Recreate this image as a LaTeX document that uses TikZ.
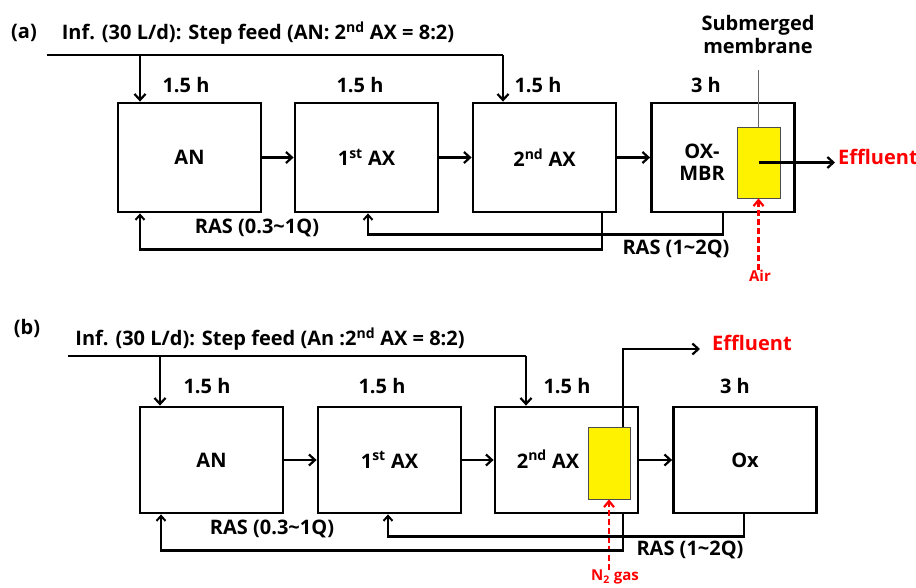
\documentclass[tikz,border=0pt]{standalone}
\usepackage{fontspec}
\setmainfont{Open Sans}
\usetikzlibrary{arrows.meta}
\begin{document}
\begin{tikzpicture}[x=1pt,y=-1pt,
  bf/.style={font=\bfseries\fontsize{20}{22}\selectfont},
  box/.style={draw,line width=2.8pt,minimum width=143pt,inner sep=0pt,bf},
  boxa/.style={box,minimum height=109pt},
  boxb/.style={box,minimum height=106pt},
  lbl/.style={inner sep=0pt,bf},
  memb/.style={draw=black!70,fill=yellow,line width=0.8pt,inner sep=0pt},
  pipe/.style={line width=2.2pt},
  flow/.style={line width=2.2pt,-{Straight Barb[length=6pt,width=11pt,line width=2.2pt]}},
  ras/.style={line width=2.2pt,-{Straight Barb[length=5pt,width=9pt,line width=2pt]}},
  gas/.style={draw=red,line width=2.4pt,dash pattern=on 6pt off 3pt,-{Straight Barb[length=6pt,width=10pt,line width=2.2pt,sep=0pt]}},
  red lbl/.style={inner sep=0pt,text=red,font=\bfseries\fontsize{15}{17}\selectfont},
  eff/.style={inner sep=0pt,text=red,font=\bfseries\fontsize{20}{22}\selectfont},
]
\useasboundingbox (0,0) rectangle (916,587);

% ================= panel (a) =================
\node[lbl] (la) at (24,33) {(a)};
\node[lbl] (ta) at (258,33) {Inf. (30 L/d): Step feed (AN: 2\textsuperscript{nd} AX = 8:2)};

\node[boxa] (a1) at (189.5,157.5) {AN};
\node[boxa] (a2) at (366.5,157.5) {1\textsuperscript{st} AX};
\node[boxa] (a3) at (544.5,157.5) {2\textsuperscript{nd} AX};
\node[boxa] (a4) at (723,157.5) {};
\node[lbl,align=center] (a4t) at (702,162) {OX-\\MBR};
\node[memb,minimum width=43pt,minimum height=71pt] (am) at (758.5,162.5) {};

\node[lbl] (ha1) at (186,85) {1.5 h};
\node[lbl] (ha2) at (360,85) {1.5 h};
\node[lbl] (ha3) at (538,85) {1.5 h};
\node[lbl] (ha4) at (706,85) {3 h};

% feed
\coordinate (fa0) at (47,55);
\coordinate (fa1) at (140,55);
\coordinate (fa2) at (503,55);
\draw[pipe] (fa0) -- (fa2);
\draw[flow] (fa1) -- (fa1 |- a1.north);
\draw[flow] (fa2) -- (fa2 |- a3.north);

% flow between boxes
\draw[flow] (a1.east) -- (a2.west);
\draw[flow] (a2.east) -- (a3.west);
\draw[flow] (a3.east) -- (a4.west);

% membrane
\node[lbl,align=center,font=\bfseries\fontsize{20}{23}\selectfont] (sm) at (758,34) {Submerged\\membrane};
\coordinate (smb) at (758,70);
\draw[black!60,line width=0.8pt] (smb) -- (smb |- am.north);
\node[eff,anchor=west] (ea) at (838,157) {Effluent};
\draw[flow] (am.center) -- ([xshift=-3pt]ea.west |- am.center);
\node[red lbl] (air) at (760,276) {Air};
\draw[gas] (air.north -| am.south) -- (am.south);

% RAS
\coordinate (ra1) at (140,0);
\coordinate (ra2) at (368,0);
\coordinate (ra3) at (602,0);
\coordinate (ra4) at (723,0);
\draw[ras] (a3.south -| ra3) -- ++(0,36) -| (a1.south -| ra1);
\draw[ras] (a4.south -| ra4) -- ++(0,21) -| (a2.south -| ra2);
\node[lbl] (rasa1) at (257,228) {RAS (0.3\textasciitilde1Q)};
\node[lbl] (rasa2) at (676,249) {RAS (1\textasciitilde2Q)};

% ================= panel (b) =================
\node[lbl] (lb) at (27,328) {(b)};
\node[lbl] (tb) at (270,339) {Inf. (30 L/d): Step feed (An :2\textsuperscript{nd} AX = 8:2)};

\node[boxb] (b1) at (211.5,460) {AN};
\node[boxb] (b2) at (389.5,460) {1\textsuperscript{st} AX};
\node[boxb] (b3) at (566.5,460) {};
\node[lbl] (b3t) at (548,459) {2\textsuperscript{nd} AX};
\node[boxb] (b4) at (745,460) {Ox};
\node[memb,minimum width=42pt,minimum height=72pt] (bm) at (609,463) {};

\node[lbl] (hb1) at (207,386) {1.5 h};
\node[lbl] (hb2) at (382,386) {1.5 h};
\node[lbl] (hb3) at (567,386) {1.5 h};
\node[lbl] (hb4) at (735,386) {3 h};

% feed
\coordinate (fb0) at (68,356);
\coordinate (fb1) at (160,356);
\coordinate (fb2) at (526,356);
\draw[pipe] (fb0) -- (fb2);
\draw[flow] (fb1) -- (fb1 |- b1.north);
\draw[flow] (fb2) -- (fb2 |- b3.north);

\draw[flow] (b1.east) -- (b2.west);
\draw[flow] (b2.east) -- (b3.west);
\draw[flow] (b3.east) -- (b4.west);

% effluent
\coordinate (pb) at (623,0);
\node[eff,anchor=west] (eb) at (712,343) {Effluent};
\coordinate (ebe) at (700,349);
\draw[flow] (bm.north -| pb) -- (pb |- ebe) -- (ebe);

% N2 gas
\node[red lbl] (n2) at (615,577) {N\textsubscript{2} gas};
\draw[gas] (n2.north -| bm.south) -- (bm.south);

% RAS
\coordinate (rb1) at (161,0);
\coordinate (rb2) at (388,0);
\coordinate (rb3) at (623,0);
\coordinate (rb4) at (744,0);
\draw[ras] (b3.south -| rb3) -- ++(0,36) -| (b1.south -| rb1);
\draw[ras] (b4.south -| rb4) -- ++(0,22) -| (b2.south -| rb2);
\node[lbl] (rasb1) at (272,529) {RAS (0.3\textasciitilde1Q)};
\node[lbl] (rasb2) at (690,550) {RAS (1\textasciitilde2Q)};
\end{tikzpicture}
\end{document}
